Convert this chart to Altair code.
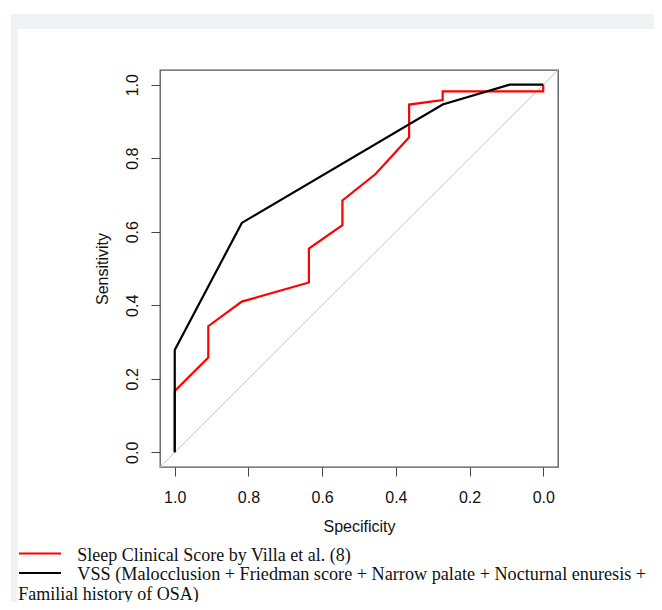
import altair as alt
import pandas as pd

# ROC curve: Sleep Clinical Score by Villa et al. (red)
red_spec = [1.0, 1.0, 0.909, 0.909, 0.818, 0.636, 0.636, 0.545, 0.545, 0.455, 0.364, 0.364, 0.273, 0.273, 0.0, 0.0]
red_sens = [0.0, 0.167, 0.258, 0.343, 0.410, 0.462, 0.554, 0.618, 0.685, 0.757, 0.857, 0.946, 0.958, 0.982, 0.982, 1.0]

# ROC curve: VSS (black)
black_spec = [1.0, 1.0, 0.818, 0.273, 0.091, 0.0]
black_sens = [0.0, 0.278, 0.624, 0.946, 1.0, 1.0]

# chance diagonal (spans whole box)
diag_spec = [1.04, -0.04]
diag_sens = [-0.04, 1.04]

tick_values = [0.0, 0.2, 0.4, 0.6, 0.8, 1.0]

legend_labels = [
    "Sleep Clinical Score by Villa et al. (8)",
    "VSS (Malocclusion + Friedman score + Narrow palate + Nocturnal enuresis +",
    "Familial history of OSA)",
]

W, H = 398, 397

red_df = pd.DataFrame({"spec": red_spec, "sens": red_sens, "idx": range(len(red_spec))})
black_df = pd.DataFrame({"spec": black_spec, "sens": black_sens, "idx": range(len(black_spec))})
diag_df = pd.DataFrame({"spec": diag_spec, "sens": diag_sens, "idx": range(len(diag_spec))})
one = pd.DataFrame({"a": [0]})

AX_FONT = "Liberation Sans"
x_enc = alt.X(
    "spec:Q",
    scale=alt.Scale(domain=[-0.04, 1.04], reverse=True, nice=False, zero=False),
    axis=alt.Axis(
        values=tick_values, format=".1f", title="Specificity",
        domain=False, grid=False, tickSize=9, tickColor="#444", tickWidth=1,
        labelFont=AX_FONT, labelFontSize=16, labelColor="#111",
        labelBaseline="alphabetic", labelPadding=26, labelFlush=False, labelOverlap=False,
        titleFont=AX_FONT, titleFontSize=16, titleFontWeight="normal", titleColor="#111",
        titleBaseline="alphabetic", titleX=W / 2, titleY=64,
    ),
)
y_enc = alt.Y(
    "sens:Q",
    scale=alt.Scale(domain=[-0.04, 1.04], nice=False, zero=False),
    axis=alt.Axis(
        values=tick_values, format=".1f", title="Sensitivity",
        domain=False, grid=False, tickSize=9, tickColor="#444", tickWidth=1,
        labelFont=AX_FONT, labelFontSize=16, labelColor="#111",
        labelAngle=270, labelAlign="center", labelBaseline="alphabetic", labelPadding=14,
        labelFlush=False, labelOverlap=False,
        titleFont=AX_FONT, titleFontSize=16, titleFontWeight="normal", titleColor="#111",
        titleAngle=270, titleAlign="center", titleBaseline="alphabetic", titleX=-53, titleY=H / 2,
    ),
)

band_color = "#f1f2f6"
top_band = alt.Chart(one).mark_rect(color=band_color).encode(
    x=alt.value(-149), x2=alt.value(502), y=alt.value(-56), y2=alt.value(-41)
)
left_band = alt.Chart(one).mark_rect(color=band_color).encode(
    x=alt.value(-149), x2=alt.value(-142.3), y=alt.value(-56), y2=alt.value(545)
)

diag = alt.Chart(diag_df).mark_line(color="#c4c4c4", strokeWidth=1, clip=True).encode(
    x=x_enc, y=y_enc, order="idx:Q"
)
red_line = alt.Chart(red_df).mark_line(color="#ff0000", strokeWidth=2.2, strokeJoin="miter").encode(
    x=x_enc, y=y_enc, order="idx:Q"
)
black_line = alt.Chart(black_df).mark_line(color="#000000", strokeWidth=2.2).encode(
    x=x_enc, y=y_enc, order="idx:Q"
)

LEG_FONT = "Liberation Serif"
leg_red = alt.Chart(one).mark_rule(color="#ff0000", strokeWidth=2).encode(
    x=alt.value(-141), x2=alt.value(-99), y=alt.value(483.5)
)
leg_black = alt.Chart(one).mark_rule(color="#000000", strokeWidth=2).encode(
    x=alt.value(-141), x2=alt.value(-99), y=alt.value(503)
)
t1 = alt.Chart(one).mark_text(
    text=legend_labels[0], font=LEG_FONT, fontSize=18, align="left", baseline="alphabetic", color="#111"
).encode(x=alt.value(-82.7), y=alt.value(490.5))
t2 = alt.Chart(one).mark_text(
    text=legend_labels[1], font=LEG_FONT, fontSize=18.2, align="left", baseline="alphabetic", color="#111"
).encode(x=alt.value(-82.7), y=alt.value(510))
t3 = alt.Chart(one).mark_text(
    text=legend_labels[2], font=LEG_FONT, fontSize=18, align="left", baseline="alphabetic", color="#111"
).encode(x=alt.value(-141.7), y=alt.value(529.5))

chart = alt.layer(
    top_band, left_band, diag, red_line, black_line, leg_red, leg_black, t1, t2, t3
).properties(
    width=W, height=H,
    padding={"left": 152, "top": 62, "right": 96, "bottom": 135},
    autosize="none", background="white",
).configure_view(stroke="#555", strokeWidth=1.3)

chart.save("out.html", embed_options={"renderer": "svg", "actions": False})
